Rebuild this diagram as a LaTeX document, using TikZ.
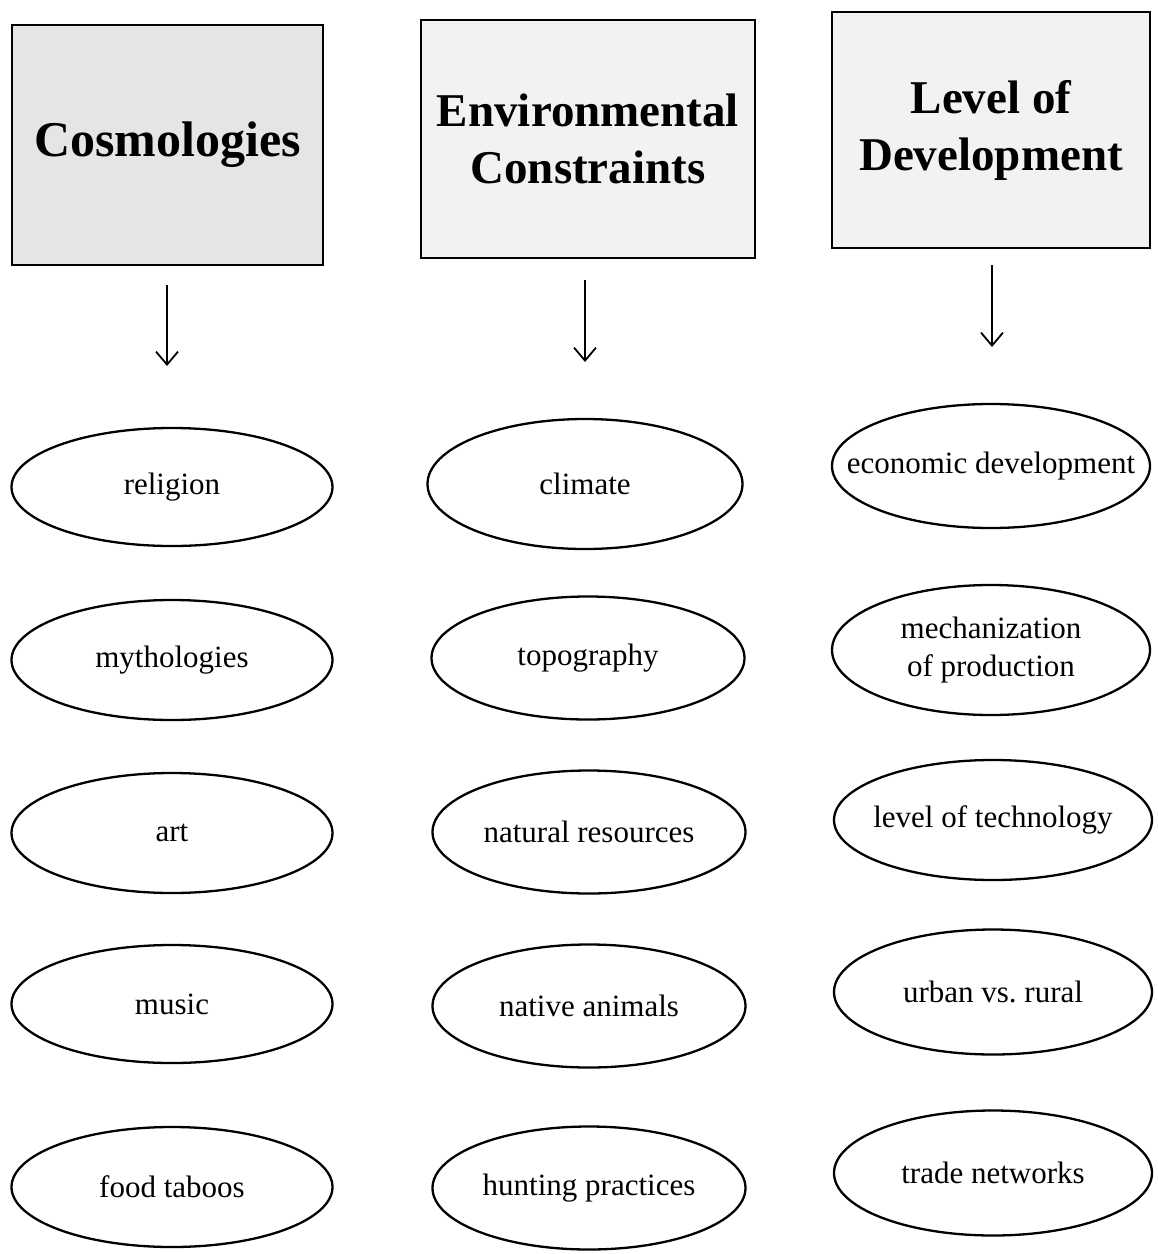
\documentclass[tikz,border=0pt]{standalone}
\usepackage{fontspec}
\setmainfont{Liberation Serif}
\usetikzlibrary{shapes.geometric,arrows.meta}
\begin{document}
\begin{tikzpicture}[x=1pt,y=-1pt,
  hbox/.style={draw=black,line width=2.5pt,rectangle,inner sep=0pt,font=\bfseries\fontsize{47}{57}\selectfont,align=center},
  oval/.style={draw=black,line width=2.3pt,ellipse,inner sep=0pt,minimum width=318pt,minimum height=120pt,font=\fontsize{31}{38}\selectfont,align=center},
  down/.style={line width=1.8pt,-{Straight Barb[length=13pt,width=22pt,line width=1.8pt]}}
]
\useasboundingbox (0,0) rectangle (1158,1254);
% header boxes
\node[hbox,fill=gray!20,minimum width=311pt,minimum height=240pt,font=\bfseries\fontsize{50}{60}\selectfont] (hc) at (167.5,145) {Cosmologies};
\node[hbox,fill=gray!10,minimum width=334pt,minimum height=238pt] (he) at (588,139) {Environmental\\Constraints};
\node[hbox,fill=gray!10,minimum width=318pt,minimum height=236pt] (hl) at (991,130) {Level of\\Development};
% arrow endpoints
\coordinate (a1s) at (167,285); \coordinate (a1e) at (167,366);
\coordinate (a2s) at (585,280); \coordinate (a2e) at (585,362);
\coordinate (a3s) at (992,265); \coordinate (a3e) at (992,347);
\draw[down] (a1s) -- (a1e);
\draw[down] (a2s) -- (a2e);
\draw[down] (a3s) -- (a3e);
% column 1
\node[oval,minimum width=321pt,minimum height=118pt] (c1) at (172,487) {religion};
\node[oval,minimum width=321pt,minimum height=120pt] (c2) at (172,660) {mythologies};
\node[oval,minimum width=321pt,minimum height=120pt] (c3) at (172,833) {art};
\node[oval,minimum width=321pt,minimum height=118pt] (c4) at (172,1004) {music};
\node[oval,minimum width=321pt,minimum height=120pt] (c5) at (172,1187) {food taboos};
% column 2
\node[oval,minimum width=315pt,minimum height=130pt] (e1) at (585,484) {climate};
\node[oval,minimum width=313pt,minimum height=123pt] (e2) at (588,658) {topography};
\node[oval,minimum width=313pt,minimum height=123pt] (e3) at (589,832) {\makebox[0pt]{natural resources}};
\node[oval,minimum width=313pt,minimum height=123pt] (e4) at (589,1006) {native animals};
\node[oval,minimum width=313pt,minimum height=123pt] (e5) at (589,1188) {\makebox[0pt]{hunting practices}};
% column 3
\node[oval,minimum width=318pt,minimum height=124pt] (l1) at (991,466) {\makebox[0pt]{economic development}};
\node[oval,minimum width=318pt,minimum height=130pt] (l2) at (991,650) {\makebox[0pt]{mechanization}\\\makebox[0pt]{of production}};
\node[oval,minimum width=318pt,minimum height=120pt] (l3) at (993,820) {\makebox[0pt]{level of technology}};
\node[oval,minimum width=318pt,minimum height=125pt] (l4) at (993,992) {urban vs.\ rural};
\node[oval,minimum width=318pt,minimum height=125pt] (l5) at (993,1173) {trade networks};
\end{tikzpicture}
\end{document}
